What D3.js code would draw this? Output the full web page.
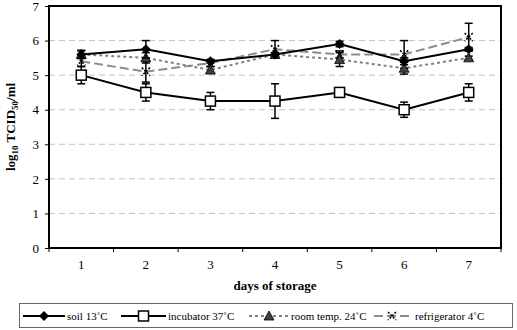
<!DOCTYPE html>
<html>
<head>
<meta charset="utf-8">
<script src="https://cdn.jsdelivr.net/npm/d3@7"></script>
<style>
  body { margin: 0; background: #fff; }
  svg text { font-family: "Liberation Serif", "Times New Roman", "DejaVu Serif", serif !important; }
</style>
</head>
<body>
<div id="chart"></div>
<script>
const width = 517;
const height = 330;
const margin = {top: 6, right: 16, bottom: 82, left: 49};

// données
const days = [1, 2, 3, 4, 5, 6, 7];
const soil = [5.6, 5.75, 5.4, 5.6, 5.9, 5.4, 5.75];
const soilErr = [0.12, 0.25, 0.05, 0.05, 0.08, 0.1, 0.05];
const incubator = [5.0, 4.5, 4.25, 4.25, 4.5, 4.0, 4.5];
const incubatorErr = [0.25, 0.25, 0.25, 0.5, 0, 0.22, 0.25];
const roomTemp = [5.6, 5.5, 5.15, 5.6, 5.45, 5.2, 5.5];
const roomTempErr = [0.1, 0.15, 0.1, 0.05, 0.2, 0.17, 0.05];
const fridge = [5.4, 5.1, 5.35, 5.75, 5.6, 5.6, 6.1];
const fridgeErr = [0.15, 0.3, 0.1, 0.25, 0.1, 0.4, 0.4];
const yTicks = [0, 1, 2, 3, 4, 5, 6, 7];

const series = [
  {name: "soil 13˚C", values: soil, err: soilErr, stroke: "#000", dash: null, sym: "diamond"},
  {name: "incubator 37˚C", values: incubator, err: incubatorErr, stroke: "#000", dash: null, sym: "square"},
  {name: "room temp. 24˚C", values: roomTemp, err: roomTempErr, stroke: "#808080", dash: "3,3", sym: "triangle"},
  {name: "refrigerator 4˚C", values: fridge, err: fridgeErr, stroke: "#8c8c8c", dash: "9,4", sym: "cross"}
];

const innerW = width - margin.left - margin.right;
const innerH = height - margin.top - margin.bottom;

const x = d3.scaleBand().domain(days).range([0, innerW]);
const y = d3.scaleLinear().domain([0, 7]).range([innerH, 0]);

const svg = d3.select("#chart").append("svg")
    .attr("width", width)
    .attr("height", height);

const g = svg.append("g").attr("transform", `translate(${margin.left},${margin.top})`);

// grille
g.selectAll(".grid").data(yTicks.filter(d => d > 0 && d < 7)).enter().append("line")
    .attr("x1", 0).attr("x2", innerW)
    .attr("y1", d => y(d)).attr("y2", d => y(d))
    .attr("stroke", "#c4c4c4").attr("stroke-dasharray", "6,4");

// axes
const xAxis = g.append("g").attr("transform", `translate(0,${innerH})`)
    .call(d3.axisBottom(x).tickSize(0).tickPadding(12));
xAxis.select(".domain").remove();
xAxis.selectAll("text").attr("font-size", 13);
// petits traits entre catégories
g.selectAll(".xt").data(d3.range(days.length + 1)).enter().append("line")
    .attr("x1", i => i * x.step()).attr("x2", i => i * x.step())
    .attr("y1", innerH).attr("y2", innerH + 4)
    .attr("stroke", "#000");

const yAxis = g.append("g")
    .call(d3.axisLeft(y).tickValues(yTicks).tickFormat(d3.format("d")).tickSize(4).tickPadding(6));
yAxis.select(".domain").remove();
yAxis.selectAll("text").attr("font-size", 13);

// cadre
g.append("rect").attr("width", innerW).attr("height", innerH)
    .attr("fill", "none").attr("stroke", "#000").attr("stroke-width", 2);

// titres
svg.append("text")
    .attr("x", margin.left + innerW / 2).attr("y", 290)
    .attr("text-anchor", "middle").attr("font-weight", "bold").attr("font-size", 13)
    .text("days of storage");

const yl = svg.append("text")
    .attr("transform", `translate(15,${margin.top + innerH / 2}) rotate(-90)`)
    .attr("text-anchor", "middle").attr("font-weight", "bold").attr("font-size", 13);
yl.append("tspan").text("log");
yl.append("tspan").attr("font-size", 9).attr("dy", 3).text("10");
yl.append("tspan").attr("dy", -3).text(" TCID");
yl.append("tspan").attr("font-size", 9).attr("dy", 3).text("50");
yl.append("tspan").attr("dy", -3).text("/ml");

const cx = i => x(days[i]) + x.bandwidth() / 2;

function drawMarker(sel, sym) {
  if (sym === "diamond") {
    sel.append("path").attr("d", "M0,-5L5,0L0,5L-5,0Z").attr("fill", "#000");
  } else if (sym === "square") {
    sel.append("rect").attr("x", -5).attr("y", -5).attr("width", 10).attr("height", 10)
      .attr("fill", "#fff").attr("stroke", "#000").attr("stroke-width", 1.5);
  } else if (sym === "triangle") {
    sel.append("path").attr("d", "M0,-5L5,4L-5,4Z").attr("fill", "#404040").attr("stroke", "#000").attr("stroke-width", 0.8);
  } else {
    sel.append("path").attr("d", "M-4,-4L4,4M4,-4L-4,4")
      .attr("stroke", "#000").attr("stroke-width", 1.6).attr("stroke-dasharray", "2,1.5").attr("fill", "none");
  }
}

const line = d3.line().x((d, i) => cx(i)).y(d => y(d));

// lignes
series.slice().reverse().forEach(s => {
  g.append("path").datum(s.values)
    .attr("d", line).attr("fill", "none")
    .attr("stroke", s.stroke).attr("stroke-width", 2)
    .attr("stroke-dasharray", s.dash);
});

// barres d'erreur + marqueurs
series.slice().reverse().forEach(s => {
  s.values.forEach((v, i) => {
    if (s.err[i] <= 0) return;
    const e = g.append("g").attr("stroke", "#000").attr("stroke-width", 1.5);
    e.append("line").attr("x1", cx(i)).attr("x2", cx(i)).attr("y1", y(v - s.err[i])).attr("y2", y(v + s.err[i]));
    [v - s.err[i], v + s.err[i]].forEach(t => {
      e.append("line").attr("x1", cx(i) - 4).attr("x2", cx(i) + 4).attr("y1", y(t)).attr("y2", y(t));
    });
  });
  s.values.forEach((v, i) => {
    drawMarker(g.append("g").attr("transform", `translate(${cx(i)},${y(v)})`), s.sym);
  });
});

// légende
const leg = svg.append("g");
leg.append("rect").attr("x", 19.5).attr("y", 303.5).attr("width", 493).attr("height", 24)
    .attr("fill", "#fff").attr("stroke", "#666");
const legX = [23, 121, 249, 374];
const legW = [42, 45, 40, 36];
series.forEach((s, i) => {
  const it = leg.append("g").attr("transform", `translate(${legX[i]},316)`);
  it.append("line").attr("x1", 0).attr("x2", legW[i]).attr("stroke", s.stroke)
    .attr("stroke-width", 2).attr("stroke-dasharray", s.dash);
  drawMarker(it.append("g").attr("transform", `translate(${legW[i] / 2},0)`), s.sym);
  it.append("text").attr("x", legW[i] + (i === 3 ? 5 : 2)).attr("y", 4).attr("font-size", 11).text(s.name);
});
</script>
</body>
</html>
